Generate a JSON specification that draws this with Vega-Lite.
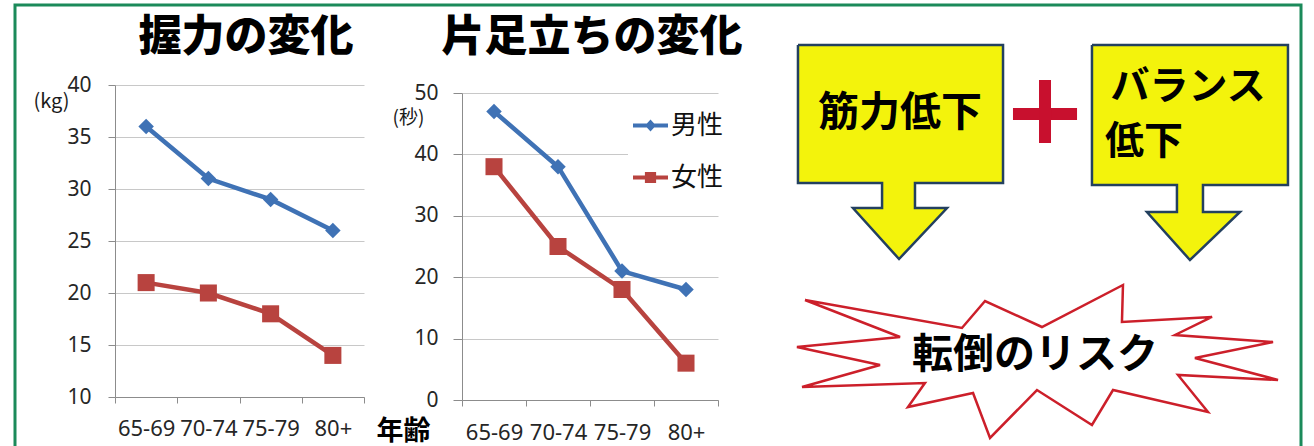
{
  "$schema": "https://vega.github.io/schema/vega-lite/v6.json",
  "width": 1286,
  "height": 445,
  "autosize": {"type": "none"},
  "padding": {"left": 15, "top": 5, "right": 13, "bottom": 0},
  "background": "white",
  "config": {
    "view": {"stroke": "#1b8a5a", "strokeWidth": 3},
    "axis": {
      "labelFont": "Noto Sans",
      "labelColor": "#262626",
      "titleFont": "Noto Sans CJK JP",
      "titleColor": "#1a1a1a",
      "domainColor": "#8c8c8c",
      "tickColor": "#8c8c8c",
      "gridColor": "#c8c8c8",
      "gridWidth": 1
    }
  },
  "datasets": {
    "grip": [
      {"age": "65-69", "sex": "男性", "value": 36},
      {"age": "70-74", "sex": "男性", "value": 31},
      {"age": "75-79", "sex": "男性", "value": 29},
      {"age": "80+", "sex": "男性", "value": 26},
      {"age": "65-69", "sex": "女性", "value": 21},
      {"age": "70-74", "sex": "女性", "value": 20},
      {"age": "75-79", "sex": "女性", "value": 18},
      {"age": "80+", "sex": "女性", "value": 14}
    ],
    "balance": [
      {"age": "65-69", "sex": "男性", "value": 47},
      {"age": "70-74", "sex": "男性", "value": 38},
      {"age": "75-79", "sex": "男性", "value": 21},
      {"age": "80+", "sex": "男性", "value": 18},
      {"age": "65-69", "sex": "女性", "value": 38},
      {"age": "70-74", "sex": "女性", "value": 25},
      {"age": "75-79", "sex": "女性", "value": 18},
      {"age": "80+", "sex": "女性", "value": 6}
    ],
    "shapes": [
      {"shape": "box1", "i": 0, "x": 61.44, "y": 90.89},
      {"shape": "box1", "i": 1, "x": 77.51, "y": 90.89},
      {"shape": "box1", "i": 2, "x": 77.51, "y": 59.45},
      {"shape": "box1", "i": 3, "x": 70.61, "y": 59.45},
      {"shape": "box1", "i": 4, "x": 70.61, "y": 53.76},
      {"shape": "box1", "i": 5, "x": 73.12, "y": 53.76},
      {"shape": "box1", "i": 6, "x": 69.36, "y": 42.14},
      {"shape": "box1", "i": 7, "x": 65.75, "y": 53.76},
      {"shape": "box1", "i": 8, "x": 68.03, "y": 53.76},
      {"shape": "box1", "i": 9, "x": 68.03, "y": 59.45},
      {"shape": "box1", "i": 10, "x": 61.44, "y": 59.45},
      {"shape": "box1", "i": 11, "x": 61.44, "y": 90.89},
      {"shape": "box2", "i": 0, "x": 84.48, "y": 90.89},
      {"shape": "box2", "i": 1, "x": 99.84, "y": 90.89},
      {"shape": "box2", "i": 2, "x": 99.84, "y": 59.0},
      {"shape": "box2", "i": 3, "x": 93.18, "y": 59.0},
      {"shape": "box2", "i": 4, "x": 93.18, "y": 52.85},
      {"shape": "box2", "i": 5, "x": 96.08, "y": 52.85},
      {"shape": "box2", "i": 6, "x": 92.16, "y": 41.91},
      {"shape": "box2", "i": 7, "x": 88.79, "y": 52.85},
      {"shape": "box2", "i": 8, "x": 91.14, "y": 52.85},
      {"shape": "box2", "i": 9, "x": 91.14, "y": 59.0},
      {"shape": "box2", "i": 10, "x": 84.48, "y": 59.0},
      {"shape": "box2", "i": 11, "x": 84.48, "y": 90.89},
      {"shape": "burst", "i": 0, "x": 61.99, "y": 32.8},
      {"shape": "burst", "i": 1, "x": 74.29, "y": 26.42},
      {"shape": "burst", "i": 2, "x": 76.1, "y": 32.57},
      {"shape": "burst", "i": 3, "x": 80.56, "y": 26.65},
      {"shape": "burst", "i": 4, "x": 86.91, "y": 36.22},
      {"shape": "burst", "i": 5, "x": 86.83, "y": 27.79},
      {"shape": "burst", "i": 6, "x": 93.89, "y": 28.93},
      {"shape": "burst", "i": 7, "x": 90.99, "y": 24.83},
      {"shape": "burst", "i": 8, "x": 98.67, "y": 23.23},
      {"shape": "burst", "i": 9, "x": 92.55, "y": 19.59},
      {"shape": "burst", "i": 10, "x": 99.06, "y": 14.58},
      {"shape": "burst", "i": 11, "x": 91.22, "y": 15.72},
      {"shape": "burst", "i": 12, "x": 93.57, "y": 7.29},
      {"shape": "burst", "i": 13, "x": 86.13, "y": 12.3},
      {"shape": "burst", "i": 14, "x": 84.48, "y": 4.33},
      {"shape": "burst", "i": 15, "x": 80.17, "y": 12.3},
      {"shape": "burst", "i": 16, "x": 76.49, "y": 1.37},
      {"shape": "burst", "i": 17, "x": 75.16, "y": 11.62},
      {"shape": "burst", "i": 18, "x": 70.06, "y": 8.43},
      {"shape": "burst", "i": 19, "x": 71.39, "y": 13.9},
      {"shape": "burst", "i": 20, "x": 61.76, "y": 12.98},
      {"shape": "burst", "i": 21, "x": 67.87, "y": 18.0},
      {"shape": "burst", "i": 22, "x": 61.36, "y": 22.1},
      {"shape": "burst", "i": 23, "x": 69.44, "y": 24.37},
      {"shape": "burst", "i": 24, "x": 61.99, "y": 32.8}
    ],
    "plus": [
      {"part": "horizontal", "x": 78.29, "x2": 83.31, "y": 76.54, "y2": 73.8},
      {"part": "vertical", "x": 80.33, "x2": 81.27, "y": 82.92, "y2": 68.56}
    ],
    "labels": [
      {"kind": "title", "label": "握力の変化", "x": 18.18, "y": 92.48},
      {"kind": "title", "label": "片足立ちの変化", "x": 45.3, "y": 92.48},
      {"kind": "shape", "label": "筋力低下", "x": 69.44, "y": 75.17},
      {"kind": "box2", "label": "バランス", "x": 92.01, "y": 81.3},
      {"kind": "box2", "label": "低下", "x": 88.56, "y": 68.8},
      {"kind": "shape", "label": "転倒のリスク", "x": 80.02, "y": 20.05}
    ]
  },
  "layer": [
    {
      "data": {"name": "grip"},
      "encoding": {
        "x": {
          "field": "age", "type": "ordinal", "bandPosition": 0.5,
          "scale": {"type": "band", "range": [100, 349], "paddingInner": 0, "paddingOuter": 0},
          "axis": {"orient": "bottom", "offset": -53, "title": null, "tickBand": "extent", "tickSize": 6, "labelFontSize": 22, "labelBaseline": "middle", "labelPadding": 25, "labelAngle": 0, "labelOverlap": false, "labelFlush": false, "grid": false}
        },
        "y": {
          "field": "value", "type": "quantitative",
          "scale": {"domain": [10, 40], "range": [392, 80], "nice": false, "zero": false},
          "axis": {"orient": "left", "offset": -100, "values": [10, 15, 20, 25, 30, 35, 40], "grid": true, "tickSize": 7, "labelFontSize": 21, "labelPadding": 17, "title": "(kg)", "titleAngle": 0, "titleX": -64, "titleY": 96, "titleAlign": "center", "titleBaseline": "middle", "titleFontSize": 20, "titleFontWeight": "normal"}
        }
      },
      "layer": [
        {
          "mark": {"type": "line", "strokeWidth": 4.5},
          "encoding": {"color": {"field": "sex", "type": "nominal", "scale": {"domain": ["男性", "女性"], "range": ["#3f72b5", "#b8433f"]}, "legend": null}}
        },
        {
          "transform": [{"filter": "datum.sex === '男性'"}],
          "mark": {"type": "point", "shape": "diamond", "filled": true, "size": 240, "opacity": 1},
          "encoding": {"color": {"field": "sex", "type": "nominal", "scale": {"domain": ["男性", "女性"], "range": ["#3f72b5", "#b8433f"]}, "legend": null}}
        },
        {
          "transform": [{"filter": "datum.sex === '女性'"}],
          "mark": {"type": "point", "shape": "square", "filled": true, "size": 290, "opacity": 1},
          "encoding": {"color": {"field": "sex", "type": "nominal", "scale": {"domain": ["男性", "女性"], "range": ["#3f72b5", "#b8433f"]}, "legend": null}}
        }
      ]
    },
    {
      "data": {"name": "balance"},
      "encoding": {
        "x": {
          "field": "age", "type": "ordinal", "bandPosition": 0.5,
          "scale": {"type": "band", "range": [447, 703], "paddingInner": 0, "paddingOuter": 0},
          "axis": {"orient": "bottom", "offset": -50, "title": "年齢", "titleX": 388, "titleY": 31, "titleAlign": "center", "titleBaseline": "middle", "titleFontSize": 27, "titleFontWeight": "bold", "titleColor": "#000", "tickBand": "extent", "tickSize": 6, "labelFontSize": 22, "labelBaseline": "middle", "labelPadding": 26, "labelAngle": 0, "labelOverlap": false, "labelFlush": false, "grid": false}
        },
        "y": {
          "field": "value", "type": "quantitative",
          "scale": {"domain": [0, 50], "range": [395, 88], "nice": false, "zero": false},
          "axis": {"orient": "left", "offset": -447, "values": [0, 10, 20, 30, 40, 50], "grid": true, "tickSize": 9, "labelFontSize": 21, "labelPadding": 15, "title": "(秒)", "titleAngle": 0, "titleX": -54, "titleY": 112, "titleAlign": "center", "titleBaseline": "middle", "titleFontSize": 19, "titleFontWeight": "normal"}
        }
      },
      "layer": [
        {
          "mark": {"type": "line", "strokeWidth": 4.5},
          "encoding": {"color": {"field": "sex", "type": "nominal", "scale": {"domain": ["男性", "女性"], "range": ["#3f72b5", "#b8433f"]}, "legend": null}}
        },
        {
          "transform": [{"filter": "datum.sex === '男性'"}],
          "mark": {"type": "point", "shape": "diamond", "filled": true, "size": 240, "opacity": 1},
          "encoding": {"color": {"field": "sex", "type": "nominal", "scale": {"domain": ["男性", "女性"], "range": ["#3f72b5", "#b8433f"]}, "legend": null}}
        },
        {
          "transform": [{"filter": "datum.sex === '女性'"}],
          "mark": {"type": "point", "shape": "square", "filled": true, "size": 290, "opacity": 1},
          "encoding": {"color": {"field": "sex", "type": "nominal", "scale": {"domain": ["男性", "女性"], "range": ["#3f72b5", "#b8433f"]}, "legend": null}}
        },
        {
          "transform": [{"filter": "false"}],
          "mark": {"type": "point", "filled": true, "opacity": 1},
          "encoding": {
            "fill": {
              "field": "sex", "type": "nominal",
              "scale": {"domain": ["男性", "女性"], "range": ["#3f72b5", "#b8433f"]},
              "legend": {"orient": "none", "legendX": 613, "legendY": 98, "title": null, "fillColor": "white", "padding": 5, "rowPadding": 21, "labelFontSize": 26, "labelFont": "Noto Sans CJK JP", "labelColor": "#111", "labelOffset": 3, "symbolSize": 1225, "symbolStrokeWidth": 0, "symbolOpacity": 1, "direction": "vertical"}
            },
            "shape": {
              "field": "sex", "type": "nominal",
              "scale": {"domain": ["男性", "女性"], "range": ["M-1,-0.11H1V0.11H-1Z M0,-0.34L0.31,0L0,0.34L-0.31,0Z", "M-1,-0.11H1V0.11H-1Z M-0.32,-0.32H0.32V0.32H-0.32Z"]},
              "legend": {"orient": "none", "legendX": 613, "legendY": 98, "title": null, "fillColor": "white", "padding": 5, "rowPadding": 21, "labelFontSize": 26, "labelFont": "Noto Sans CJK JP", "labelColor": "#111", "labelOffset": 3, "symbolSize": 1225, "symbolStrokeWidth": 0, "symbolOpacity": 1, "direction": "vertical"}
            }
          }
        }
      ]
    },
    {
      "encoding": {
        "x": {"field": "x", "type": "quantitative", "scale": {"domain": [0, 100], "range": [-1, 1275], "nice": false, "zero": false}, "axis": null},
        "y": {"field": "y", "type": "quantitative", "scale": {"domain": [0, 100], "range": [439, 0], "nice": false, "zero": false}, "axis": null}
      },
      "layer": [
        {
          "data": {"name": "shapes"},
          "transform": [{"filter": "datum.shape === 'box1'"}],
          "mark": {"type": "line", "fill": "#f3f30c", "stroke": "#23405f", "strokeWidth": 2.5, "strokeJoin": "miter"},
          "encoding": {"order": {"field": "i", "type": "quantitative"}}
        },
        {
          "data": {"name": "shapes"},
          "transform": [{"filter": "datum.shape === 'box2'"}],
          "mark": {"type": "line", "fill": "#f3f30c", "stroke": "#23405f", "strokeWidth": 2.5, "strokeJoin": "miter"},
          "encoding": {"order": {"field": "i", "type": "quantitative"}}
        },
        {
          "data": {"name": "shapes"},
          "transform": [{"filter": "datum.shape === 'burst'"}],
          "mark": {"type": "line", "fill": "white", "stroke": "#cc1f2a", "strokeWidth": 2.5, "strokeJoin": "miter"},
          "encoding": {"order": {"field": "i", "type": "quantitative"}}
        },
        {
          "data": {"name": "plus"},
          "mark": {"type": "rect", "color": "#c8102e"},
          "encoding": {
            "x2": {"field": "x2"},
            "y2": {"field": "y2"}
          }
        },
        {
          "data": {"name": "labels"},
          "transform": [{"filter": "datum.kind === 'title'"}],
          "mark": {"type": "text", "font": "Noto Sans CJK JP", "fontSize": 43, "fontWeight": 900, "color": "#000", "align": "center", "baseline": "middle"},
          "encoding": {"text": {"field": "label"}}
        },
        {
          "data": {"name": "labels"},
          "transform": [{"filter": "datum.kind === 'shape'"}],
          "mark": {"type": "text", "font": "Noto Sans CJK JP", "fontSize": 41, "fontWeight": "bold", "color": "#000", "align": "center", "baseline": "middle"},
          "encoding": {"text": {"field": "label"}}
        },
        {
          "data": {"name": "labels"},
          "transform": [{"filter": "datum.kind === 'box2'"}],
          "mark": {"type": "text", "font": "Noto Sans CJK JP", "fontSize": 39, "fontWeight": "bold", "color": "#000", "align": "center", "baseline": "middle"},
          "encoding": {"text": {"field": "label"}}
        }
      ]
    }
  ],
  "resolve": {
    "scale": {"x": "independent", "y": "independent", "color": "independent"},
    "axis": {"x": "independent", "y": "independent"}
  }
}
